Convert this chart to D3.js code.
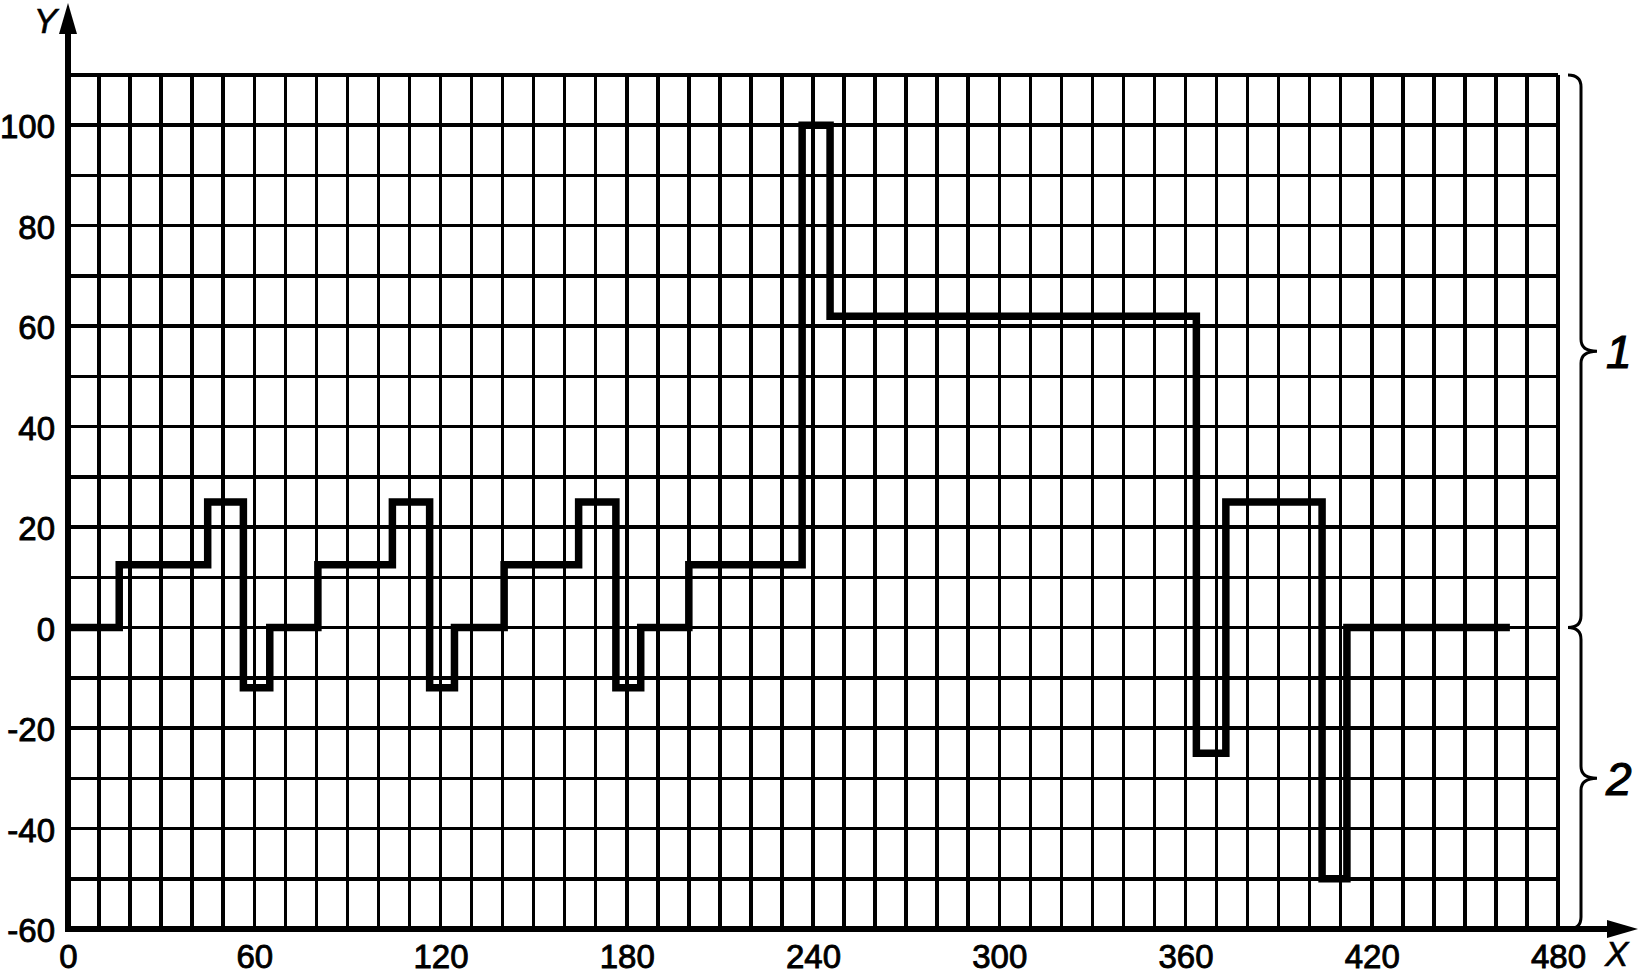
<!DOCTYPE html>
<html>
<head>
<meta charset="utf-8">
<script src="https://cdn.jsdelivr.net/npm/d3@7"></script>
<style>
  html, body { margin: 0; padding: 0; background: #fff; }
  svg { display: block; }
  .tick-label { font-family: "Liberation Sans", Arial, sans-serif; font-size: 33px; fill: #000; stroke: #000; stroke-width: 0.9px; }
  .axis-name { font-family: "Liberation Sans", Arial, sans-serif; font-size: 35px; font-style: italic; fill: #000; stroke: #000; stroke-width: 0.6px; }
  .brace-label { font-family: "Liberation Sans", Arial, sans-serif; font-size: 46px; font-style: italic; fill: #000; stroke: #000; stroke-width: 1.2px; }
</style>
</head>
<body>
<svg id="chart" width="1642" height="974"></svg>
<script>
// step signal, values
const stepX = [0, 16.5, 45, 56.5, 65, 80.5, 104.5, 116.5, 124.5, 140.5, 164.5, 176.5, 184.5, 200, 236.5, 245.5, 363.5, 373, 404, 412, 464.5];
const stepY = [0, 12.5, 25, -12, 0, 12.5, 25, -12, 0, 12.5, 25, -12, 0, 12.5, 100, 62, -25, 25, -50, 0, 0];

const xTicks = [0, 60, 120, 180, 240, 300, 360, 420, 480];
const yTicks = [-60, -40, -20, 0, 20, 40, 60, 80, 100];
const xDomain = [0, 480];
const yDomain = [-60, 110];
const gridStep = 10;

const braceLabels = ["1", "2"];
const braceFrom = [0, -60];
const braceTo = [110, 0];

const svg = d3.select("#chart");
const x = d3.scaleLinear().domain(xDomain).range([68, 1558]);
const y = d3.scaleLinear().domain(yDomain).range([929, 75]);

const points = stepX.map((v, i) => ({ x: v, y: stepY[i] }));

// grid
const grid = svg.append("g").attr("class", "grid").attr("shape-rendering", "crispEdges");
grid.selectAll("line.v").data(d3.range(xDomain[0] + gridStep, xDomain[1] + 1, gridStep)).join("line")
  .attr("class", "v")
  .attr("x1", d => x(d)).attr("x2", d => x(d))
  .attr("y1", y(yDomain[0])).attr("y2", y(yDomain[1]))
  .attr("stroke", "#000").attr("stroke-width", d => d === xDomain[1] ? 4 : 3.5);
grid.selectAll("line.h").data(d3.range(yDomain[0] + gridStep, yDomain[1] + 1, gridStep)).join("line")
  .attr("class", "h")
  .attr("x1", x(xDomain[0])).attr("x2", x(xDomain[1]))
  .attr("y1", d => y(d)).attr("y2", d => y(d))
  .attr("stroke", "#000").attr("stroke-width", d => d === yDomain[1] ? 4 : 3.5);

// tick labels through d3 axes (plain hyphen for negatives, as in the picture)
const fmt = d => String(d);
const xAxis = svg.append("g").attr("transform", `translate(0,${y(yDomain[0])})`)
  .call(d3.axisBottom(x).tickValues(xTicks).tickSize(0).tickPadding(14).tickFormat(fmt));
const yAxis = svg.append("g").attr("transform", `translate(${x(0)},0)`)
  .call(d3.axisLeft(y).tickValues(yTicks).tickSize(0).tickPadding(13).tickFormat(fmt));
[xAxis, yAxis].forEach(a => {
  a.select(".domain").remove();
  a.selectAll("text").attr("class", "tick-label").attr("font-size", null).attr("font-family", null);
});
xAxis.selectAll("text").attr("dy", "0.75em");
yAxis.selectAll("text").attr("dy", "0.38em");

// axes with arrows
const x0 = x(0), y0 = y(yDomain[0]);
svg.append("line").attr("x1", x0).attr("x2", 1610).attr("y1", y0).attr("y2", y0)
  .attr("stroke", "#000").attr("stroke-width", 5.5).attr("shape-rendering", "crispEdges");
svg.append("line").attr("x1", x0).attr("x2", x0).attr("y1", y0 + 2.5).attr("y2", 30)
  .attr("stroke", "#000").attr("stroke-width", 5.5).attr("shape-rendering", "crispEdges");
svg.append("path").attr("d", `M${x0},3 L${x0 - 9},34 L${x0 + 9},34 Z`).attr("fill", "#000");
svg.append("path").attr("d", `M1638,${y0} L1607,${y0 - 9} L1607,${y0 + 9} Z`).attr("fill", "#000");
svg.append("text").attr("class", "axis-name").attr("x", 57).attr("y", 33).attr("text-anchor", "end").text("Y");
svg.append("text").attr("class", "axis-name").attr("x", 1605).attr("y", 966).text("X");

// signal
const line = d3.line().x(d => x(d.x)).y(d => y(d.y)).curve(d3.curveStepAfter);
svg.append("path").datum(points)
  .attr("d", line)
  .attr("fill", "none").attr("stroke", "#000").attr("stroke-width", 7.5)
  .attr("stroke-linejoin", "miter").attr("stroke-linecap", "butt");

// braces on the right
const bx0 = 1568, bx1 = 1581, bx2 = 1597, r = 12;
braceLabels.forEach((lab, i) => {
  const top = y(braceTo[i]), bot = y(braceFrom[i]), mid = (top + bot) / 2;
  const d = `M${bx0},${top} Q${bx1},${top} ${bx1},${top + r} L${bx1},${mid - r} Q${bx1},${mid} ${bx2},${mid}`
    + ` Q${bx1},${mid} ${bx1},${mid + r} L${bx1},${bot - r} Q${bx1},${bot} ${bx0},${bot}`;
  svg.append("path").attr("d", d).attr("fill", "none").attr("stroke", "#000").attr("stroke-width", 3);
  svg.append("text").attr("class", "brace-label").attr("x", 1606).attr("y", mid + 17).text(lab);
});
</script>
</body>
</html>
